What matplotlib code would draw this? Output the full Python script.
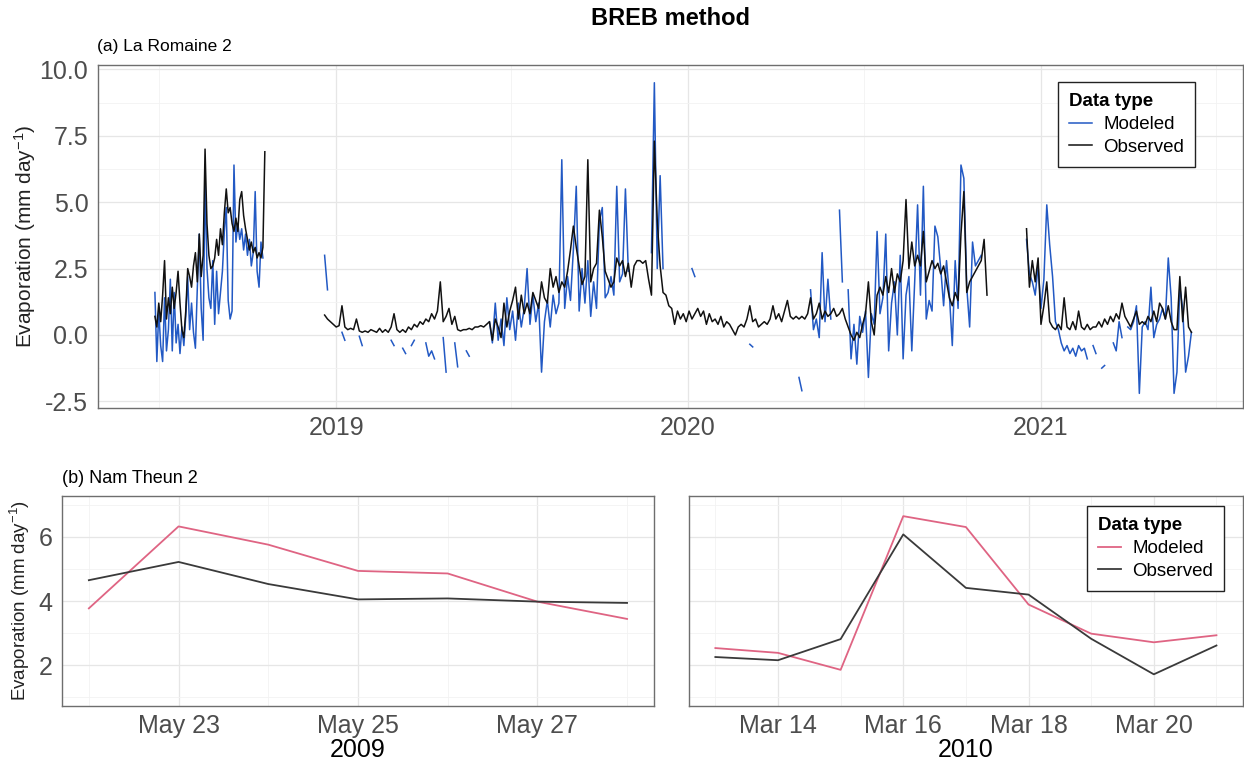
import matplotlib
matplotlib.use("Agg")
import matplotlib.pyplot as plt
import matplotlib.dates as mdates
from matplotlib.ticker import MultipleLocator, FormatStrFormatter
import numpy as np
import pandas as pd

plt.rcParams['font.family'] = ['Liberation Sans', 'DejaVu Sans']
plt.rcParams['mathtext.default'] = 'regular'
plt.rcParams['axes.unicode_minus'] = False

nan = np.nan

# ---------------- La Romaine 2 (daily evaporation, sampled) ----------------
# summer 2018, every 2 days from 2018-06-27
lr_2018_start = "2018-06-27"
lr_2018_obs = [0.7, 0.3, 1.2, 0.5, 1.5, 2.8, 0.6, 1.4, 0.8, 1.8,
               1.0, 1.6, 2.4, 1.2, 0.2, -0.1, 0.9, 2.5, 2.2, 1.8,
               2.6, 3.1, 2.0, 3.8, 2.2, 3.0, 7.0, 4.2, 3.0, 2.5,
               2.6, 2.9, 3.6, 3.0, 4.0, 3.4, 4.6, 5.5, 4.6, 4.8,
               4.2, 3.9, 4.4, 3.9, 5.1, 5.4, 4.5, 4.0, 3.6, 3.2,
               3.5, 3.1, 3.3, 2.9, 3.1, 2.9, 3.3, 6.9]
lr_2018_mod = [1.6, -1.0, 0.9, -0.4, -1.0, 1.4, -0.6, 0.2, 2.1, -0.6,
               1.6, -0.3, 0.4, -0.7, 0.3, -0.4, 0.7, 2.2, 0.2, 1.2,
               0.1, -0.5, 1.8, 3.8, 1.0, -0.2, 5.9, 2.5, 1.4, 1.0,
               2.8, 0.4, 2.4, 0.8, 1.6, 2.4, 3.9, 4.8, 1.3, 0.6,
               0.9, 6.4, 3.5, 4.2, 3.6, 4.0, 3.2, 3.8, 3.0, 3.6,
               2.6, 3.1, 5.4, 2.4, 1.8, 3.5, 2.9, nan]

# winter 2018 to autumn 2020, every 3 days from 2018-12-20
lr_1920_start = "2018-12-20"
lr_1920_obs = [0.75, 0.6, 0.5, 0.4, 0.3, 0.35, 1.1, 0.3, 0.2, 0.25,
               0.2, 0.6, 0.15, 0.1, 0.15, 0.1, 0.2, 0.15, 0.1, 0.25,
               0.1, 0.2, 0.1, 0.3, 0.8, 0.2, 0.1, 0.2, 0.1, 0.3,
               0.2, 0.4, 0.3, 0.5, 0.4, 0.6, 0.5, 0.8, 0.6, 0.9,
               2.0, 0.5, 0.7, 1.0, 0.4, 0.7, 0.2, 0.15, 0.2, 0.2,
               0.25, 0.2, 0.3, 0.3, 0.35, 0.3, 0.4, 0.5, -0.2, 0.6,
               0.3, -0.1, 1.2, 0.3, 0.9, 1.3, 1.8, 0.6, 1.5, 0.8,
               1.2, 0.8, 1.6, 1.3, 1.0, 2.0, 1.4, 1.2, 2.5, 1.8,
               2.2, 1.6, 2.0, 1.8, 2.4, 3.2, 4.1, 3.3, 2.6, 1.9,
               2.2, 6.6, 2.0, 2.5, 2.7, 4.7, 3.7, 2.4, 2.1, 1.8,
               2.0, 2.9, 2.6, 2.8, 2.2, 2.7, 1.8, 2.6, 2.8, 2.8,
               2.7, 2.8, 2.1, 1.5, 7.3, 4.3, 2.6, 1.6, 1.5, 1.1,
               1.0, 0.4, 0.9, 0.6, 0.8, 0.5, 0.9, 0.6, 0.8, 1.0,
               0.7, 0.9, 0.4, 0.8, 0.5, 0.6, 0.4, 0.7, 0.3, 0.5,
               0.4, 0.2, 0.0, 0.3, 0.4, 0.3, 0.6, 1.1, 0.5, 0.6,
               0.3, 0.4, 0.5, 0.4, 0.6, 1.1, 0.6, 0.8, 0.5, 0.9,
               1.3, 0.7, 0.6, 0.7, 0.6, 0.7, 0.6, 0.8, 1.4, 0.6,
               0.8, 1.2, 0.6, 0.9, 0.7, 0.8, 1.0, 0.7, 0.8, 1.0,
               0.6, 0.3, 0.0, -0.2, 0.1, -0.1, 0.4, 0.8, 2.0, 0.5,
               0.0, 1.5, 1.8, 1.5, 2.2, 1.6, 2.5, 1.6, 2.3, 2.0,
               2.8, 5.1, 2.5, 3.5, 2.6, 3.0, 2.6, 3.9, 2.0, 2.4,
               2.8, 2.5, 2.7, 2.3, 2.6, 2.0, 1.4, 1.1, 1.6, 1.3,
               3.8, 5.4, 1.6, 2.0, 2.2, 2.4, 2.6, 2.8, 3.6, 1.5]
lr_1920_mod = [3.0, 1.7, nan, nan, nan, nan, 0.1, -0.2, nan, nan,
               nan, nan, -0.05, -0.4, nan, nan, nan, nan, nan, nan,
               nan, nan, nan, -0.2, -0.4, nan, nan, -0.5, -0.7, nan,
               -0.4, -0.2, nan, nan, nan, -0.3, -0.8, -0.6, -0.9, nan,
               nan, -0.1, -1.4, nan, nan, -0.3, -1.2, nan, nan, -0.6,
               -0.8, nan, nan, nan, nan, nan, nan, 0.5, -0.3, 1.2,
               -0.2, 0.6, -0.4, 1.4, 0.2, 0.9, -0.2, 1.2, 0.3, 1.0,
               2.5, 0.4, 1.5, 0.5, 1.2, -1.4, 0.5, 1.3, 0.3, 1.5,
               0.8, 1.2, 6.6, 1.0, 2.2, 1.3, 3.2, 5.6, 0.9, 2.5,
               1.2, 2.8, 0.7, 2.0, 1.0, 4.3, 4.8, 1.4, 1.6, 2.2,
               1.5, 5.6, 2.0, 2.3, 5.5, 2.4, nan, nan, nan, nan,
               nan, nan, nan, 3.1, 9.5, 2.5, 6.0, 2.5, nan, nan,
               nan, nan, nan, nan, nan, nan, nan, 2.5, 2.2, nan,
               nan, nan, nan, nan, nan, nan, nan, nan, nan, nan,
               nan, nan, nan, nan, nan, nan, nan, -0.35, -0.45, nan,
               nan, nan, nan, nan, nan, nan, nan, nan, nan, nan,
               nan, nan, nan, nan, -1.6, -2.1, nan, nan, 1.7, 0.2,
               0.6, -0.1, 3.1, 0.5, 2.1, 0.6, nan, nan, 4.7, 2.0,
               nan, 1.7, -0.9, 0.4, -1.1, 0.7, 0.1, 0.9, -1.6, 0.8,
               0.4, 3.9, 0.8, 1.4, 3.8, -0.6, 1.2, 2.0, 0.0, 3.0,
               -0.9, 1.5, 2.2, -0.6, 2.0, 4.9, 1.5, 5.6, 0.6, 1.3,
               0.9, 4.1, 3.7, 2.5, 1.1, 2.8, 1.5, -0.4, 2.8, 1.0,
               6.4, 5.9, 1.8, 0.3, 3.5, 2.6, 2.8, 3.0, nan, nan]

# winter/spring 2021, every 3 days from 2020-12-17
lr_2021_start = "2020-12-17"
lr_2021_obs = [4.0, 1.8, 2.8, 2.0, 2.9, 0.4, 1.1, 2.0, 0.5, 0.3,
               0.2, 0.4, 0.2, 1.4, 0.3, 0.2, 0.5, 0.2, 0.9, 0.3,
               0.2, 0.4, 0.2, 0.3, 0.3, 0.5, 0.3, 0.6, 0.4, 0.7,
               0.5, 0.8, 0.6, 1.2, 0.7, 0.5, 0.3, 0.6, 0.9, 0.4,
               0.5, 0.4, 0.7, 0.5, 0.9, 0.5, 1.2, 1.0, 0.6, 1.1,
               0.5, 0.2, 0.2, 2.2, 0.5, 1.8, 0.3, 0.1]
lr_2021_mod = [3.6, 2.3, 2.0, 1.5, 2.6, 1.0, 2.1, 4.9, 3.4, 2.2,
               0.5, 0.2, -0.3, -0.6, -0.4, -0.7, -0.5, -0.8, -0.4, -0.6,
               -0.5, -0.9, nan, -0.4, -0.7, nan, -1.25, -1.15, nan, nan,
               -0.3, -0.6, 0.5, -0.1, nan, 0.3, 0.2, 0.5, 1.1, -2.2,
               0.3, 0.5, 0.2, 1.8, -0.1, 0.4, 0.6, 1.0, 0.6, 2.9,
               1.4, -2.2, -1.4, 1.8, 1.0, -1.4, -0.8, 0.1]

# ---------------- Nam Theun 2 ----------------
nt_2009_start = "2009-05-22"
nt_2009_mod = [3.77, 6.33, 5.76, 4.94, 4.86, 3.98, 3.44]
nt_2009_obs = [4.65, 5.22, 4.53, 4.05, 4.08, 3.98, 3.94]

nt_2010_start = "2010-03-13"
nt_2010_mod = [2.53, 2.38, 1.85, 6.65, 6.31, 3.89, 2.98, 2.71, 2.93]
nt_2010_obs = [2.25, 2.15, 2.81, 6.08, 4.41, 4.20, 2.82, 1.71, 2.61]

BLUE = "#2259C4"
PINK = "#DF6483"
GREY_TXT = "#4D4D4D"


def style_axes(ax):
    for sp in ax.spines.values():
        sp.set_color("#6E6E6E")
        sp.set_linewidth(1.0)
    ax.grid(which="major", color="#E6E6E6", lw=0.9)
    ax.grid(which="minor", color="#F2F2F2", lw=0.6)
    ax.set_axisbelow(True)
    ax.tick_params(which="both", length=0, labelsize=18, labelcolor=GREY_TXT)
    ax.tick_params(axis="x", pad=6)
    ax.tick_params(axis="y", pad=7)


def add_legend(ax, anchor, handles, labels):
    leg = ax.legend(handles, labels, loc="upper left", bbox_to_anchor=anchor,
                    title="Data type", fontsize=13.5,
                    title_fontproperties={"weight": "bold", "size": 13.5},
                    frameon=True, fancybox=False, framealpha=1,
                    handlelength=1.2, handletextpad=0.6, borderpad=0.6,
                    labelspacing=0.3, borderaxespad=0)
    leg.get_frame().set_edgecolor("#222222")
    leg.get_frame().set_linewidth(1.0)
    leg._legend_box.align = "left"
    return leg


fig = plt.figure(figsize=(12.44, 7.64), dpi=100)

# ---- panel (a) ----
ax_a = fig.add_axes([0.0788, 0.466, 0.920, 0.449])
segments = [(lr_2018_start, "2D", lr_2018_mod, lr_2018_obs),
            (lr_1920_start, "3D", lr_1920_mod, lr_1920_obs),
            (lr_2021_start, "3D", lr_2021_mod, lr_2021_obs)]
for start, freq, mod, obs in segments:
    d_mod = pd.date_range(start, periods=len(mod), freq=freq)
    line_mod, = ax_a.plot(d_mod, mod, color=BLUE, lw=1.1, zorder=2)
for start, freq, mod, obs in segments:
    d_obs = pd.date_range(start, periods=len(obs), freq=freq)
    line_obs, = ax_a.plot(d_obs, obs, color="#111111", lw=1.1, zorder=3)

ax_a.set_xlim(pd.Timestamp("2018-04-29"), pd.Timestamp("2021-07-29"))
ax_a.set_ylim(-2.75, 10.17)
ax_a.xaxis.set_major_locator(mdates.YearLocator())
ax_a.xaxis.set_minor_locator(mdates.MonthLocator(bymonth=7))
ax_a.xaxis.set_major_formatter(mdates.DateFormatter("%Y"))
ax_a.yaxis.set_major_locator(MultipleLocator(2.5))
ax_a.yaxis.set_minor_locator(MultipleLocator(1.25))
ax_a.yaxis.set_major_formatter(FormatStrFormatter("%.1f"))
style_axes(ax_a)
add_legend(ax_a, (0.839, 0.95), [line_mod, line_obs], ["Modeled", "Observed"])

# ---- panel (b), 2009 ----
ax_b1 = fig.add_axes([0.0498, 0.0759, 0.4759, 0.2749])
d09 = pd.date_range(nt_2009_start, periods=len(nt_2009_mod), freq="D")
ax_b1.plot(d09, nt_2009_mod, color=PINK, lw=1.3)
ax_b1.plot(d09, nt_2009_obs, color="#3A3A3A", lw=1.3)
ax_b1.set_xlim(mdates.date2num(d09[0]) - 0.3, mdates.date2num(d09[-1]) + 0.3)
ax_b1.set_ylim(0.72, 7.28)
ax_b1.xaxis.set_major_locator(mdates.DayLocator(bymonthday=[23, 25, 27]))
ax_b1.xaxis.set_minor_locator(mdates.DayLocator(bymonthday=[22, 24, 26, 28]))
ax_b1.xaxis.set_major_formatter(mdates.DateFormatter("%b %d"))
ax_b1.yaxis.set_major_locator(MultipleLocator(2))
ax_b1.yaxis.set_minor_locator(MultipleLocator(1))
style_axes(ax_b1)
ax_b1.set_xlabel("2009", fontsize=18, labelpad=0, color="black")

# ---- panel (b), 2010 ----
ax_b2 = fig.add_axes([0.5539, 0.0759, 0.4451, 0.2749], sharey=ax_b1)
d10 = pd.date_range(nt_2010_start, periods=len(nt_2010_mod), freq="D")
m10, = ax_b2.plot(d10, nt_2010_mod, color=PINK, lw=1.3)
o10, = ax_b2.plot(d10, nt_2010_obs, color="#3A3A3A", lw=1.3)
ax_b2.set_xlim(mdates.date2num(d10[0]) - 0.42, mdates.date2num(d10[-1]) + 0.42)
ax_b2.xaxis.set_major_locator(mdates.DayLocator(bymonthday=[14, 16, 18, 20]))
ax_b2.xaxis.set_minor_locator(mdates.DayLocator(bymonthday=[13, 15, 17, 19, 21]))
ax_b2.xaxis.set_major_formatter(mdates.DateFormatter("%b %d"))
style_axes(ax_b2)
ax_b2.tick_params(axis="y", labelleft=False)
ax_b2.set_xlabel("2010", fontsize=18, labelpad=0, color="black")
add_legend(ax_b2, (0.719, 0.952), [m10, o10], ["Modeled", "Observed"])

# ---- titles and labels ----
fig.text(0.539, 0.976, "BREB method", ha="center", va="center",
         fontsize=17, fontweight="bold")
fig.text(0.078, 0.9385, "(a) La Romaine 2", ha="left", va="center", fontsize=12.5)
fig.text(0.0498, 0.374, "(b) Nam Theun 2", ha="left", va="center", fontsize=13)
fig.text(0.020, 0.691, "Evaporation (mm day$^{-1}$)", rotation=90,
         ha="center", va="center", fontsize=15, color="#222222")
fig.text(0.016, 0.2134, "Evaporation (mm day$^{-1}$)", rotation=90,
         ha="center", va="center", fontsize=13.5, color="#222222")

fig.savefig("out.png", dpi=100)
